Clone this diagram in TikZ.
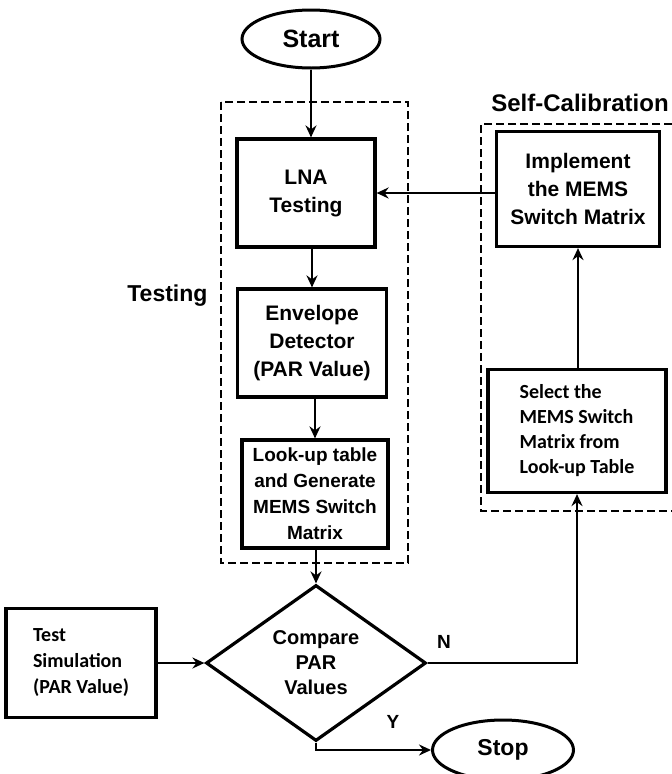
\documentclass[tikz,border=0pt]{standalone}
\usepackage{fontspec}
\setmainfont{Liberation Sans}
\newfontfamily\calfont{Carlito}
\usetikzlibrary{shapes.geometric,arrows.meta}

\begin{document}
\begin{tikzpicture}[x=1pt,y=-1pt,
    blk/.style={draw,line width=3.2pt,align=center,inner sep=0pt,font=\bfseries\fontsize{21}{28}\selectfont},
    term/.style={draw,ellipse,line width=3pt,inner sep=0pt,font=\bfseries\fontsize{25}{30}\selectfont},
    lbl/.style={font=\bfseries\fontsize{23}{28}\selectfont},
    flow/.style={line width=2.8pt,-{Stealth[length=12pt,width=11pt,inset=4pt]}},
    grp/.style={line width=2.6pt,dash pattern=on 8pt off 4pt}]
    \useasboundingbox (0,0) rectangle (672,774);

    % testing part
    \node[term,minimum width=138pt,minimum height=58pt] (start) at (311,39) {Start};
    \node[blk,minimum width=138pt,minimum height=108pt] (lna) at (306,193) {LNA\\Testing};
    \node[blk,minimum width=149pt,minimum height=108pt] (env) at (312,343) {Envelope\\Detector\\(PAR Value)};
    \node[blk,minimum width=146pt,minimum height=108pt,font=\bfseries\fontsize{19}{26}\selectfont] (look) at (315,494) {Look-up table\\and Generate\\MEMS Switch\\Matrix};
    \draw[grp] (221,102) rectangle (408,563);
    \node[lbl,anchor=east] (testlbl) at (211,296) {Testing};

    % decision
    \node[draw,diamond,aspect=1.41,line width=3.2pt,minimum width=220pt,minimum height=156pt,inner sep=0pt,align=center,font=\bfseries\fontsize{20}{25}\selectfont] (comp) at (316,663) {Compare\\PAR\\Values};
    \node[blk,minimum width=150pt,minimum height=109pt,align=left,font=\calfont\bfseries\fontsize{20}{26}\selectfont] (sim) at (81,663) {Test\\Simulation\\(PAR Value)};
    \node[term,minimum width=141pt,minimum height=60pt,font=\bfseries\fontsize{23}{28}\selectfont] (stop) at (503,750) {Stop};
    \node[font=\bfseries\fontsize{19}{22}\selectfont] (nlbl) at (444,642) {N};
    \node[font=\bfseries\fontsize{19}{22}\selectfont] (ylbl) at (393,722) {Y};

    % self-calibration part
    \node[blk,minimum width=163pt,minimum height=115pt] (impl) at (578,189) {Implement\\the MEMS\\Switch Matrix};
    \node[blk,minimum width=178pt,minimum height=123pt,align=left,font=\calfont\bfseries\fontsize{20}{25}\selectfont] (sel) at (577,431) {Select the\\MEMS Switch\\Matrix from\\Look-up Table};
    \draw[grp] (672,124) -- (481,124) -- (481,511) -- (672,511);
    \node[lbl,font=\bfseries\fontsize{24}{28}\selectfont] (callbl) at (580,103) {Self-Calibration};

    % arrows
    \draw[flow] (start.south) -- (start.south |- lna.north);
    \draw[flow] (env.north |- lna.south) -- (env.north);
    \draw[flow] (look.north |- env.south) -- (look.north);
    \draw[flow] (comp.north |- look.south) -- (comp.north);
    \draw[flow] (sim.east) -- (comp.west);
    \draw[flow] (comp.east) -| (sel.south);
    \draw[flow] (impl.south |- sel.north) -- (impl.south);
    \draw[flow] (impl.west |- lna.east) -- (lna.east);
    \draw[flow] (comp.south) |- (stop.west);
\end{tikzpicture}
\end{document}
